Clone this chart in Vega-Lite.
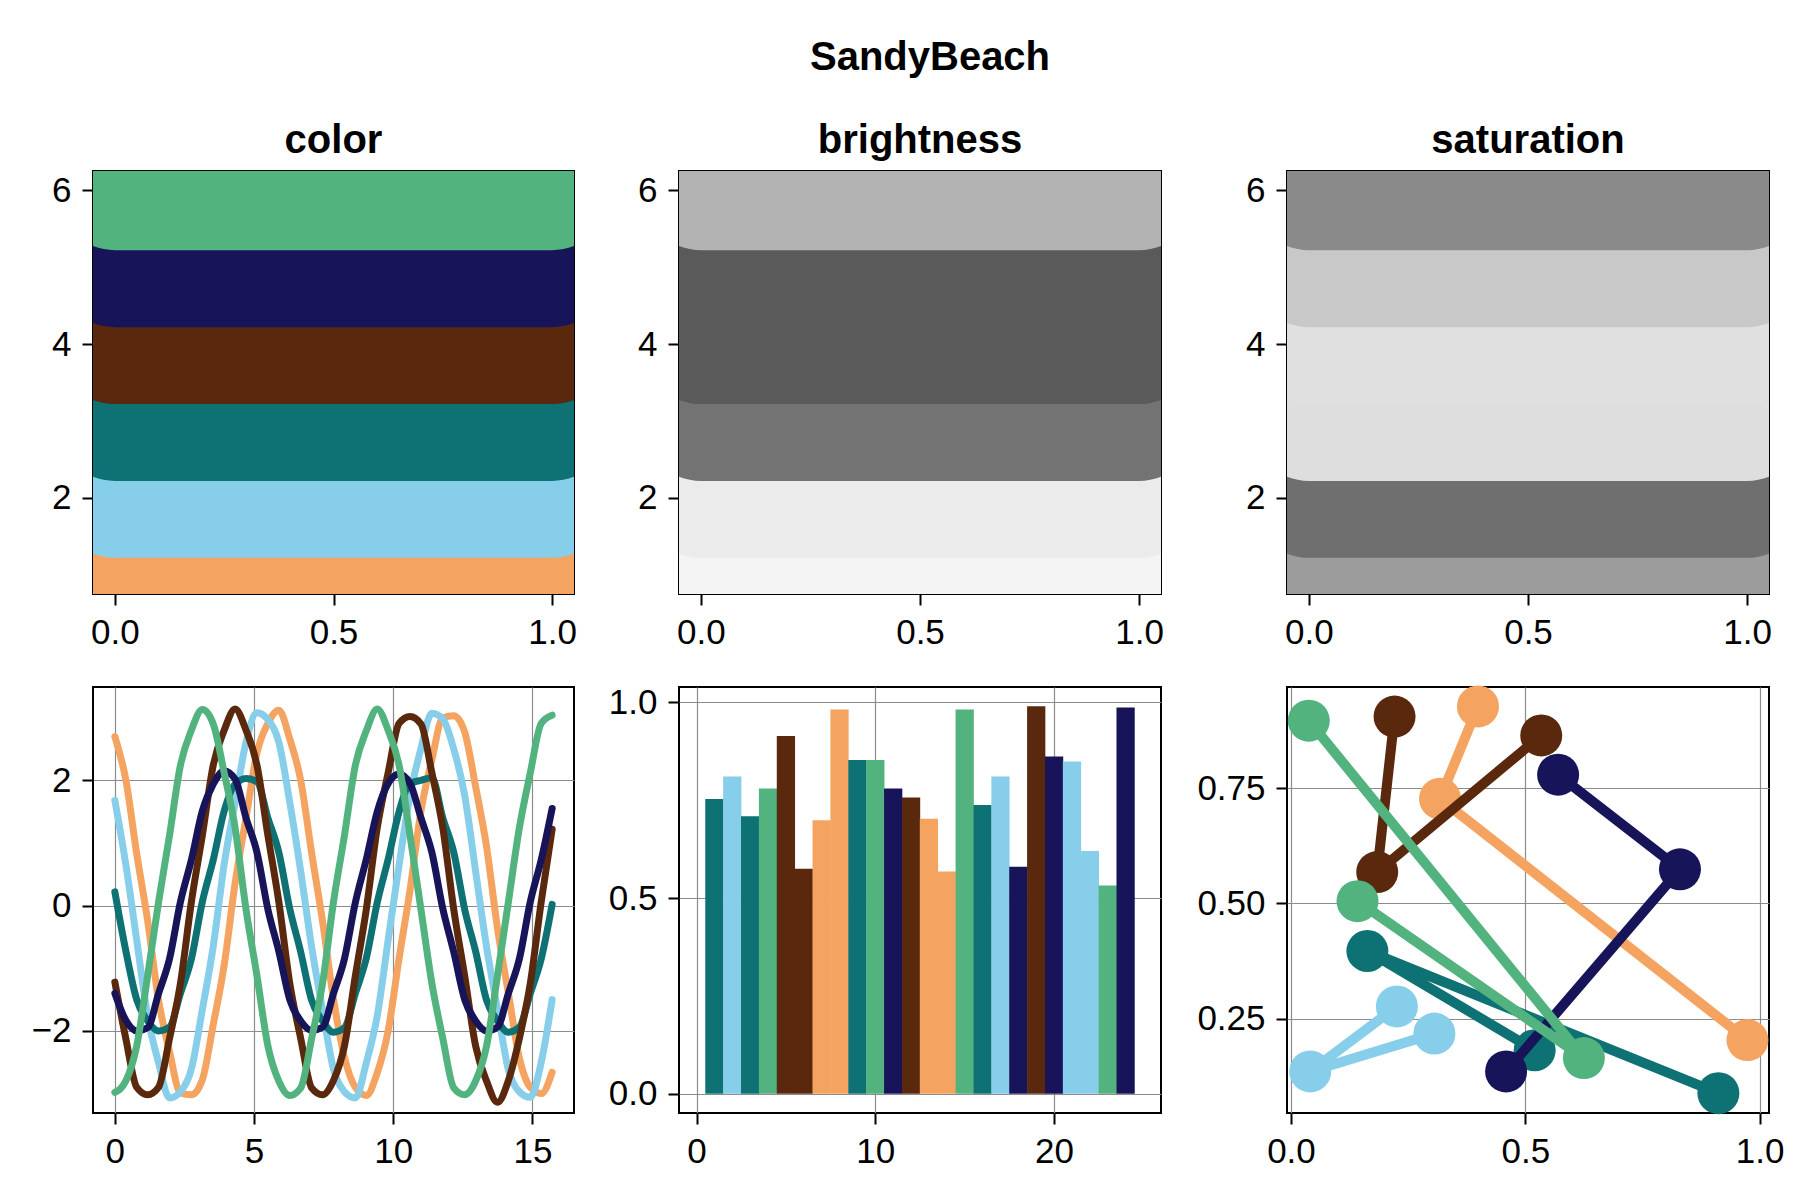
{
  "$schema": "https://vega.github.io/schema/vega-lite/v6.json",
  "background": "white",
  "padding": {"left": 30, "top": 38, "right": 10, "bottom": 10},
  "title": {"text": "SandyBeach", "anchor": "middle", "frame": "group", "dx": 837, "offset": 9.5, "baseline": "alphabetic", "fontSize": 40, "fontWeight": "bold", "font": "Liberation Sans", "color": "black"},
  "datasets": {
    "bands": [
      {"s": "s1", "y": 1}, {"s": "s2", "y": 2}, {"s": "s3", "y": 3},
      {"s": "s4", "y": 4}, {"s": "s5", "y": 5}, {"s": "s6", "y": 6}
    ],
    "waves": [
      {"x": 0, "s1": 2.70, "s2": 1.68, "s3": 0.22, "s4": -1.22, "s5": -1.40, "s6": -2.98},
      {"x": 0.393, "s1": 2.01, "s2": 0.66, "s3": -0.72, "s4": -2.12, "s5": -1.83, "s6": -2.80},
      {"x": 0.785, "s1": 0.83, "s2": -0.55, "s3": -1.50, "s4": -2.90, "s5": -2.00, "s6": -2.24},
      {"x": 1.178, "s1": -0.24, "s2": -1.76, "s3": -1.84, "s4": -3.02, "s5": -1.95, "s6": -1.12},
      {"x": 1.571, "s1": -1.51, "s2": -2.51, "s3": -2.00, "s4": -2.90, "s5": -1.40, "s6": 0.06},
      {"x": 1.963, "s1": -2.33, "s2": -3.07, "s3": -1.94, "s4": -2.12, "s5": -0.85, "s6": 1.12},
      {"x": 2.356, "s1": -2.99, "s2": -2.97, "s3": -1.40, "s4": -1.24, "s5": 0.06, "s6": 2.24},
      {"x": 2.749, "s1": -3.02, "s2": -2.61, "s3": -0.85, "s4": 0.06, "s5": 0.73, "s6": 2.80},
      {"x": 3.142, "s1": -2.78, "s2": -1.66, "s3": 0.06, "s4": 1.12, "s5": 1.51, "s6": 3.13},
      {"x": 3.534, "s1": -1.90, "s2": -0.65, "s3": 0.73, "s4": 2.24, "s5": 1.94, "s6": 2.90},
      {"x": 3.927, "s1": -0.95, "s2": 0.66, "s3": 1.51, "s4": 2.80, "s5": 2.15, "s6": 2.12},
      {"x": 4.320, "s1": 0.36, "s2": 1.65, "s3": 1.94, "s4": 3.14, "s5": 2.02, "s6": 1.24},
      {"x": 4.712, "s1": 1.40, "s2": 2.61, "s3": 2.03, "s4": 2.80, "s5": 1.40, "s6": -0.06},
      {"x": 5.105, "s1": 2.44, "s2": 3.08, "s3": 1.98, "s4": 2.24, "s5": 0.85, "s6": -1.12},
      {"x": 5.498, "s1": 2.91, "s2": 2.97, "s3": 1.40, "s4": 1.12, "s5": -0.06, "s6": -2.24},
      {"x": 5.890, "s1": 3.12, "s2": 2.61, "s3": 0.85, "s4": 0.06, "s5": -0.73, "s6": -2.80},
      {"x": 6.283, "s1": 2.66, "s2": 1.65, "s3": -0.05, "s4": -1.24, "s5": -1.50, "s6": -3.03},
      {"x": 6.676, "s1": 2.00, "s2": 0.55, "s3": -0.74, "s4": -2.12, "s5": -1.84, "s6": -2.91},
      {"x": 7.069, "s1": 0.84, "s2": -0.66, "s3": -1.51, "s4": -2.91, "s5": -1.99, "s6": -2.12},
      {"x": 7.461, "s1": -0.25, "s2": -1.66, "s3": -1.84, "s4": -3.02, "s5": -1.94, "s6": -1.24},
      {"x": 7.854, "s1": -1.49, "s2": -2.61, "s3": -2.02, "s4": -2.79, "s5": -1.40, "s6": 0.06},
      {"x": 8.247, "s1": -2.42, "s2": -2.97, "s3": -1.95, "s4": -2.24, "s5": -0.85, "s6": 1.12},
      {"x": 8.639, "s1": -2.90, "s2": -3.07, "s3": -1.40, "s4": -1.12, "s5": 0.05, "s6": 2.24},
      {"x": 9.032, "s1": -3.03, "s2": -2.51, "s3": -0.84, "s4": -0.06, "s5": 0.74, "s6": 2.79},
      {"x": 9.425, "s1": -2.67, "s2": -1.76, "s3": 0.05, "s4": 1.24, "s5": 1.50, "s6": 3.14},
      {"x": 9.817, "s1": -2.00, "s2": -0.55, "s3": 0.74, "s4": 2.12, "s5": 1.95, "s6": 2.80},
      {"x": 10.210, "s1": -0.84, "s2": 0.65, "s3": 1.50, "s4": 2.91, "s5": 2.10, "s6": 2.24},
      {"x": 10.603, "s1": 0.25, "s2": 1.76, "s3": 1.95, "s4": 3.02, "s5": 1.95, "s6": 1.12},
      {"x": 10.996, "s1": 1.51, "s2": 2.51, "s3": 2.00, "s4": 2.90, "s5": 1.40, "s6": -0.06},
      {"x": 11.388, "s1": 2.33, "s2": 3.07, "s3": 2.04, "s4": 2.12, "s5": 0.85, "s6": -1.24},
      {"x": 11.781, "s1": 3.00, "s2": 2.98, "s3": 1.40, "s4": 1.24, "s5": -0.05, "s6": -2.12},
      {"x": 12.174, "s1": 3.03, "s2": 2.50, "s3": 0.85, "s4": -0.06, "s5": -0.74, "s6": -2.91},
      {"x": 12.566, "s1": 2.77, "s2": 1.76, "s3": -0.06, "s4": -1.12, "s5": -1.50, "s6": -3.02},
      {"x": 12.959, "s1": 1.90, "s2": 0.55, "s3": -0.73, "s4": -2.24, "s5": -1.84, "s6": -2.80},
      {"x": 13.352, "s1": 0.94, "s2": -0.66, "s3": -1.51, "s4": -2.80, "s5": -2.00, "s6": -2.24},
      {"x": 13.744, "s1": -0.36, "s2": -1.65, "s3": -1.84, "s4": -3.14, "s5": -1.94, "s6": -1.12},
      {"x": 14.137, "s1": -1.40, "s2": -2.62, "s3": -2.02, "s4": -2.79, "s5": -1.40, "s6": 0.06},
      {"x": 14.530, "s1": -2.43, "s2": -2.97, "s3": -1.94, "s4": -2.12, "s5": -0.85, "s6": 1.24},
      {"x": 14.923, "s1": -2.90, "s2": -3.06, "s3": -1.40, "s4": -1.24, "s5": 0.06, "s6": 2.12},
      {"x": 15.315, "s1": -3.00, "s2": -2.50, "s3": -0.85, "s4": 0.06, "s5": 0.73, "s6": 2.91},
      {"x": 15.708, "s1": -2.66, "s2": -1.50, "s3": 0.02, "s4": 1.22, "s5": 1.55, "s6": 3.04}
    ],
    "bars": [
      {"i": 1, "s": "s3", "v": 0.753}, {"i": 2, "s": "s2", "v": 0.811},
      {"i": 3, "s": "s3", "v": 0.709}, {"i": 4, "s": "s6", "v": 0.780},
      {"i": 5, "s": "s4", "v": 0.914}, {"i": 6, "s": "s4", "v": 0.575},
      {"i": 7, "s": "s1", "v": 0.699}, {"i": 8, "s": "s1", "v": 0.982},
      {"i": 9, "s": "s3", "v": 0.853}, {"i": 10, "s": "s6", "v": 0.853},
      {"i": 11, "s": "s5", "v": 0.780}, {"i": 12, "s": "s4", "v": 0.757},
      {"i": 13, "s": "s1", "v": 0.703}, {"i": 14, "s": "s1", "v": 0.568},
      {"i": 15, "s": "s6", "v": 0.982}, {"i": 16, "s": "s3", "v": 0.738},
      {"i": 17, "s": "s2", "v": 0.811}, {"i": 18, "s": "s5", "v": 0.580},
      {"i": 19, "s": "s4", "v": 0.990}, {"i": 20, "s": "s5", "v": 0.862},
      {"i": 21, "s": "s2", "v": 0.849}, {"i": 22, "s": "s2", "v": 0.620},
      {"i": 23, "s": "s6", "v": 0.532}, {"i": 24, "s": "s5", "v": 0.987}
    ],
    "pts": [
      {"s": "s1", "o": 0, "x": 0.399, "y": 0.927}, {"s": "s1", "o": 1, "x": 0.318, "y": 0.727}, {"s": "s1", "o": 2, "x": 0.974, "y": 0.204},
      {"s": "s2", "o": 0, "x": 0.226, "y": 0.277}, {"s": "s2", "o": 1, "x": 0.041, "y": 0.136}, {"s": "s2", "o": 2, "x": 0.306, "y": 0.218},
      {"s": "s3", "o": 0, "x": 0.520, "y": 0.182}, {"s": "s3", "o": 1, "x": 0.163, "y": 0.397}, {"s": "s3", "o": 2, "x": 0.912, "y": 0.089},
      {"s": "s4", "o": 0, "x": 0.221, "y": 0.905}, {"s": "s4", "o": 1, "x": 0.184, "y": 0.568}, {"s": "s4", "o": 2, "x": 0.534, "y": 0.864},
      {"s": "s5", "o": 0, "x": 0.570, "y": 0.779}, {"s": "s5", "o": 1, "x": 0.830, "y": 0.574}, {"s": "s5", "o": 2, "x": 0.459, "y": 0.136},
      {"s": "s6", "o": 0, "x": 0.038, "y": 0.896}, {"s": "s6", "o": 1, "x": 0.625, "y": 0.165}, {"s": "s6", "o": 2, "x": 0.142, "y": 0.505}
    ]
  },
  "columns": 5,
  "spacing": {"row": 93, "column": 0},
  "bounds": "flush",
  "align": "each",
  "resolve": {"scale": {"x": "independent", "y": "independent", "color": "independent"}},
  "concat": [
    {
      "width": 481, "height": 423,
      "title": {"text": "color"},
      "data": {"name": "bands"},
      "mark": {"type": "rule", "strokeWidth": 120, "strokeCap": "round", "clip": true},
      "encoding": {
        "x": {"datum": 0, "type": "quantitative", "scale": {"domain": [-0.05, 1.05], "nice": false, "zero": false}, "axis": {"values": [0, 0.5, 1], "format": ".1f", "title": null}},
        "x2": {"datum": 1},
        "y": {"field": "y", "type": "quantitative", "scale": {"domain": [0.75, 6.25], "nice": false, "zero": false}, "axis": {"values": [2, 4, 6], "format": "d", "title": null}},
        "color": {"field": "s", "type": "nominal", "scale": {"domain": ["s1", "s2", "s3", "s4", "s5", "s6"], "range": ["#F4A460", "#87CEEB", "#0E7173", "#5A280C", "#17145A", "#52B37F"]}, "legend": null}
      }
    },
    {"width": 105, "height": 10, "data": {"values": []}, "mark": "text", "encoding": {}, "view": {"stroke": null}},
    {
      "width": 482, "height": 423,
      "title": {"text": "brightness"},
      "data": {"name": "bands"},
      "mark": {"type": "rule", "strokeWidth": 120, "strokeCap": "round", "clip": true},
      "encoding": {
        "x": {"datum": 0, "type": "quantitative", "scale": {"domain": [-0.05, 1.05], "nice": false, "zero": false}, "axis": {"values": [0, 0.5, 1], "format": ".1f", "title": null}},
        "x2": {"datum": 1},
        "y": {"field": "y", "type": "quantitative", "scale": {"domain": [0.75, 6.25], "nice": false, "zero": false}, "axis": {"values": [2, 4, 6], "format": "d", "title": null}},
        "color": {"field": "s", "type": "nominal", "scale": {"domain": ["s1", "s2", "s3", "s4", "s5", "s6"], "range": ["#F4F4F4", "#EBEBEB", "#737373", "#5A5A5A", "#5A5A5A", "#B3B3B3"]}, "legend": null}
      }
    },
    {"width": 126, "height": 10, "data": {"values": []}, "mark": "text", "encoding": {}, "view": {"stroke": null}},
    {
      "width": 482, "height": 423,
      "title": {"text": "saturation"},
      "data": {"name": "bands"},
      "mark": {"type": "rule", "strokeWidth": 120, "strokeCap": "round", "clip": true},
      "encoding": {
        "x": {"datum": 0, "type": "quantitative", "scale": {"domain": [-0.05, 1.05], "nice": false, "zero": false}, "axis": {"values": [0, 0.5, 1], "format": ".1f", "title": null}},
        "x2": {"datum": 1},
        "y": {"field": "y", "type": "quantitative", "scale": {"domain": [0.75, 6.25], "nice": false, "zero": false}, "axis": {"values": [2, 4, 6], "format": "d", "title": null}},
        "color": {"field": "s", "type": "nominal", "scale": {"domain": ["s1", "s2", "s3", "s4", "s5", "s6"], "range": ["#9C9C9C", "#6F6F6F", "#DEDEDE", "#E0E0E0", "#C8C8C8", "#8A8A8A"]}, "legend": null}
      }
    },
    {
      "width": 481, "height": 426,
      "data": {"name": "waves"},
      "transform": [{"fold": ["s1", "s2", "s3", "s4", "s5", "s6"], "as": ["s", "y"]}],
      "mark": {"type": "line", "strokeWidth": 7, "strokeJoin": "round", "strokeCap": "round", "interpolate": "monotone", "clip": true},
      "encoding": {
        "x": {"field": "x", "type": "quantitative", "scale": {"domain": [-0.785, 16.493], "nice": false, "zero": false}, "axis": {"values": [0, 5, 10, 15], "format": "d", "grid": true, "title": null}},
        "y": {"field": "y", "type": "quantitative", "scale": {"domain": [-3.31, 3.49], "nice": false, "zero": false}, "axis": {"values": [-2, 0, 2], "format": "d", "grid": true, "title": null}},
        "color": {"field": "s", "type": "nominal", "scale": {"domain": ["s1", "s2", "s3", "s4", "s5", "s6"], "range": ["#F4A460", "#87CEEB", "#0E7173", "#5A280C", "#17145A", "#52B37F"]}, "legend": null}
      }
    },
    {"width": 105, "height": 10, "data": {"values": []}, "mark": "text", "encoding": {}, "view": {"stroke": null}},
    {
      "width": 482, "height": 426,
      "data": {"name": "bars"},
      "mark": {"type": "bar", "size": 18.26},
      "encoding": {
        "x": {"field": "i", "type": "quantitative", "scale": {"domain": [-0.7, 25.7], "nice": false, "zero": false}, "axis": {"values": [0, 10, 20], "format": "d", "grid": true, "title": null}},
        "y": {"field": "v", "type": "quantitative", "scale": {"domain": [-0.0495, 1.0395], "nice": false, "zero": false}, "axis": {"values": [0, 0.5, 1], "format": ".1f", "grid": true, "title": null}},
        "color": {"field": "s", "type": "nominal", "scale": {"domain": ["s1", "s2", "s3", "s4", "s5", "s6"], "range": ["#F4A460", "#87CEEB", "#0E7173", "#5A280C", "#17145A", "#52B37F"]}, "legend": null}
      }
    },
    {"width": 126, "height": 10, "data": {"values": []}, "mark": "text", "encoding": {}, "view": {"stroke": null}},
    {
      "width": 482, "height": 426,
      "data": {"name": "pts"},
      "encoding": {
        "x": {"field": "x", "type": "quantitative", "scale": {"domain": [-0.0085, 1.02], "nice": false, "zero": false}, "axis": {"values": [0, 0.5, 1], "format": ".1f", "grid": true, "title": null}},
        "y": {"field": "y", "type": "quantitative", "scale": {"domain": [0.046, 0.969], "nice": false, "zero": false}, "axis": {"values": [0.25, 0.5, 0.75], "format": ".2f", "grid": true, "title": null}},
        "color": {"field": "s", "type": "nominal", "scale": {"domain": ["s1", "s2", "s3", "s4", "s5", "s6"], "range": ["#F4A460", "#87CEEB", "#0E7173", "#5A280C", "#17145A", "#52B37F"]}, "legend": null}
      },
      "layer": [
        {"transform": [{"filter": "datum.s == 's1'"}], "mark": {"type": "line", "strokeWidth": 10}, "encoding": {"order": {"field": "o"}}},
        {"transform": [{"filter": "datum.s == 's1'"}], "mark": {"type": "circle", "size": 1764, "opacity": 1}},
        {"transform": [{"filter": "datum.s == 's2'"}], "mark": {"type": "line", "strokeWidth": 10}, "encoding": {"order": {"field": "o"}}},
        {"transform": [{"filter": "datum.s == 's2'"}], "mark": {"type": "circle", "size": 1764, "opacity": 1}},
        {"transform": [{"filter": "datum.s == 's3'"}], "mark": {"type": "line", "strokeWidth": 10}, "encoding": {"order": {"field": "o"}}},
        {"transform": [{"filter": "datum.s == 's3'"}], "mark": {"type": "circle", "size": 1764, "opacity": 1}},
        {"transform": [{"filter": "datum.s == 's4'"}], "mark": {"type": "line", "strokeWidth": 10}, "encoding": {"order": {"field": "o"}}},
        {"transform": [{"filter": "datum.s == 's4'"}], "mark": {"type": "circle", "size": 1764, "opacity": 1}},
        {"transform": [{"filter": "datum.s == 's5'"}], "mark": {"type": "line", "strokeWidth": 10}, "encoding": {"order": {"field": "o"}}},
        {"transform": [{"filter": "datum.s == 's5'"}], "mark": {"type": "circle", "size": 1764, "opacity": 1}},
        {"transform": [{"filter": "datum.s == 's6'"}], "mark": {"type": "line", "strokeWidth": 10}, "encoding": {"order": {"field": "o"}}},
        {"transform": [{"filter": "datum.s == 's6'"}], "mark": {"type": "circle", "size": 1764, "opacity": 1}}
      ]
    }
  ],
  "config": {
    "font": "Liberation Sans",
    "view": {"stroke": "black", "strokeWidth": 2},
    "title": {"font": "Liberation Sans", "fontSize": 40, "fontWeight": "bold", "color": "black", "frame": "group", "anchor": "middle", "baseline": "alphabetic", "offset": 10.5},
    "axis": {
      "domain": false,
      "tickColor": "black", "tickWidth": 2, "tickSize": 11,
      "labelFont": "Liberation Sans", "labelFontSize": 35, "labelColor": "black",
      "labelFlush": false, "labelOverlap": false, "labelBound": false,
      "grid": false, "gridColor": "#8c8c8c", "gridWidth": 1.2
    },
    "axisX": {"labelPadding": 10},
    "axisY": {"labelPadding": 11}
  }
}
